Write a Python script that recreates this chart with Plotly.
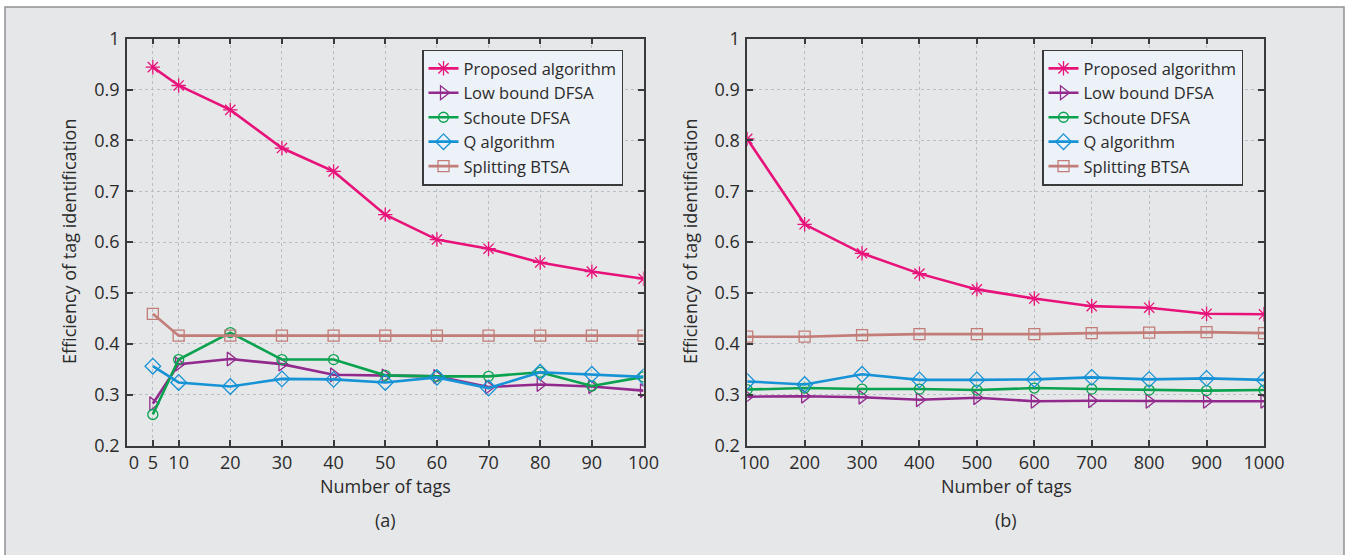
import plotly.graph_objects as go

W, H = 1350, 555

# ---------------- data ----------------
x_a = [5, 10, 20, 30, 40, 50, 60, 70, 80, 90, 100]
proposed_a = [0.944, 0.908, 0.860, 0.785, 0.739, 0.654, 0.605, 0.587, 0.560, 0.542, 0.528]
lowbound_a = [0.282, 0.360, 0.370, 0.360, 0.339, 0.337, 0.336, 0.315, 0.320, 0.316, 0.308]
schoute_a = [0.261, 0.369, 0.422, 0.369, 0.369, 0.338, 0.336, 0.336, 0.344, 0.317, 0.335]
qalg_a = [0.356, 0.324, 0.316, 0.331, 0.330, 0.324, 0.334, 0.313, 0.344, 0.340, 0.335]
split_a = [0.459, 0.416, 0.416, 0.416, 0.416, 0.416, 0.416, 0.416, 0.416, 0.416, 0.416]

x_b = [100, 200, 300, 400, 500, 600, 700, 800, 900, 1000]
proposed_b = [0.803, 0.635, 0.578, 0.538, 0.507, 0.489, 0.474, 0.471, 0.459, 0.458]
lowbound_b = [0.296, 0.297, 0.295, 0.290, 0.294, 0.287, 0.288, 0.287, 0.287, 0.287]
schoute_b = [0.310, 0.313, 0.311, 0.311, 0.309, 0.313, 0.311, 0.309, 0.308, 0.309]
qalg_b = [0.326, 0.320, 0.340, 0.329, 0.329, 0.330, 0.334, 0.330, 0.332, 0.329]
split_b = [0.414, 0.414, 0.417, 0.419, 0.419, 0.419, 0.421, 0.422, 0.423, 0.421]

series_names = ["Proposed algorithm", "Low bound DFSA", "Schoute DFSA", "Q algorithm", "Splitting BTSA"]
tick_a = [0, 5, 10, 20, 30, 40, 50, 60, 70, 80, 90, 100]
tick_a_text = ["0", "5", "10", "20", "30", "40", "50", "60", "70", "80", "90", "100"]
tick_b = [100, 200, 300, 400, 500, 600, 700, 800, 900, 1000]
tick_b_text = ["100", "200", "300", "400", "500", "600", "700", "800", "900", "1000"]
tick_y = [0.2, 0.3, 0.4, 0.5, 0.6, 0.7, 0.8, 0.9, 1.0]
tick_y_text = ["0.2", "0.3", "0.4", "0.5", "0.6", "0.7", "0.8", "0.9", "1"]

# ---------------- styles ----------------
colors = ["#e8137a", "#922a8e", "#0aa24f", "#1692d6", "#c27d79"]
symbols = ["asterisk-open", "triangle-right-open", "circle-open", "diamond-open", "square-open"]
sizes = [12, 12, 10, 12, 11]
FONT = "Open Sans"
TXT = "#2b2b2b"
NB = "\u00a0\u00a0\u00a0"  # first label nudged right, as in the reference

fig = go.Figure()

data_a = [proposed_a, lowbound_a, schoute_a, qalg_a, split_a]
data_b = [proposed_b, lowbound_b, schoute_b, qalg_b, split_b]

for i, name in enumerate(series_names):
    fig.add_trace(go.Scatter(
        x=x_a, y=data_a[i], name=name, mode="lines+markers",
        line=dict(color=colors[i], width=2.6),
        marker=dict(symbol=symbols[i], size=sizes[i], color=colors[i],
                    line=dict(color=colors[i], width=1.3)),
        xaxis="x", yaxis="y", legend="legend"))
for i, name in enumerate(series_names):
    fig.add_trace(go.Scatter(
        x=x_b, y=data_b[i], name=name, mode="lines+markers",
        line=dict(color=colors[i], width=2.6),
        marker=dict(symbol=symbols[i], size=sizes[i], color=colors[i],
                    line=dict(color=colors[i], width=1.3)),
        xaxis="x2", yaxis="y2", legend="legend2"))

def px_x(p):
    return p / W

def px_y(p):
    return 1 - p / H

top, bot = 38.7, 445.5
dom_y = [px_y(bot), px_y(top)]

axis_common = dict(
    showline=True, linecolor="#3a3a3a", linewidth=1.5, mirror="ticks",
    ticks="inside", ticklen=6, tickwidth=1.5, tickcolor="#3a3a3a",
    showgrid=True, gridcolor="#b9bfc4", griddash="dot", gridwidth=1,
    zeroline=False, tickfont=dict(family=FONT, size=18, color=TXT),
)

legend_common = dict(
    xanchor="left", yanchor="top",
    bgcolor="#edf2f8", bordercolor="#3a3a3a", borderwidth=1.5,
    font=dict(family=FONT, size=16.5, color=TXT), itemwidth=30,
    tracegroupgap=0,
)

fig.update_layout(
    width=W, height=H,
    margin=dict(l=0, r=0, t=0, b=0, autoexpand=False),
    paper_bgcolor="white", plot_bgcolor="#d6e6f1",
    font=dict(family=FONT, color=TXT),
    xaxis=dict(domain=[px_x(127), px_x(643.5)], range=[0, 100], tickvals=tick_a,
               ticktext=[NB + tick_a_text[0]] + tick_a_text[1:],
               anchor="y", **axis_common),
    yaxis=dict(domain=dom_y, range=[0.2, 1.0], tickvals=tick_y, ticktext=tick_y_text,
               anchor="x", ticklabelstandoff=2, **axis_common),
    xaxis2=dict(domain=[px_x(747.2), px_x(1264)], range=[100, 1000], tickvals=tick_b,
                ticktext=[NB + tick_b_text[0]] + tick_b_text[1:],
                anchor="y2", **axis_common),
    yaxis2=dict(domain=dom_y, range=[0.2, 1.0], tickvals=tick_y, ticktext=tick_y_text,
                anchor="x2", ticklabelstandoff=2, **axis_common),
    legend=dict(x=px_x(422), y=px_y(49.6), **legend_common),
    legend2=dict(x=px_x(1042), y=px_y(49.6), **legend_common),
    showlegend=True,
)

# outer grey frame
fig.add_shape(type="rect", xref="paper", yref="paper", layer="below",
              x0=px_x(5), x1=px_x(1344), y0=-0.1, y1=px_y(7),
              fillcolor="#e6e7e8", line=dict(color="#8f9194", width=1.5))

ann = dict(xref="paper", yref="paper", showarrow=False,
           xanchor="center", yanchor="middle",
           font=dict(family=FONT, size=18, color=TXT))
fig.add_annotation(text="Number of tags", x=px_x(385), y=px_y(486), **ann)
fig.add_annotation(text="Number of tags", x=px_x(1006), y=px_y(486), **ann)
fig.add_annotation(text="(a)", x=px_x(385), y=px_y(520), **ann)
fig.add_annotation(text="(b)", x=px_x(1006), y=px_y(520), **ann)
fig.add_annotation(text="Efficiency of tag identification", textangle=-90,
                   x=px_x(69), y=px_y(242), **ann)
fig.add_annotation(text="Efficiency of tag identification", textangle=-90,
                   x=px_x(690), y=px_y(242), **ann)

fig.write_html("out.html")
